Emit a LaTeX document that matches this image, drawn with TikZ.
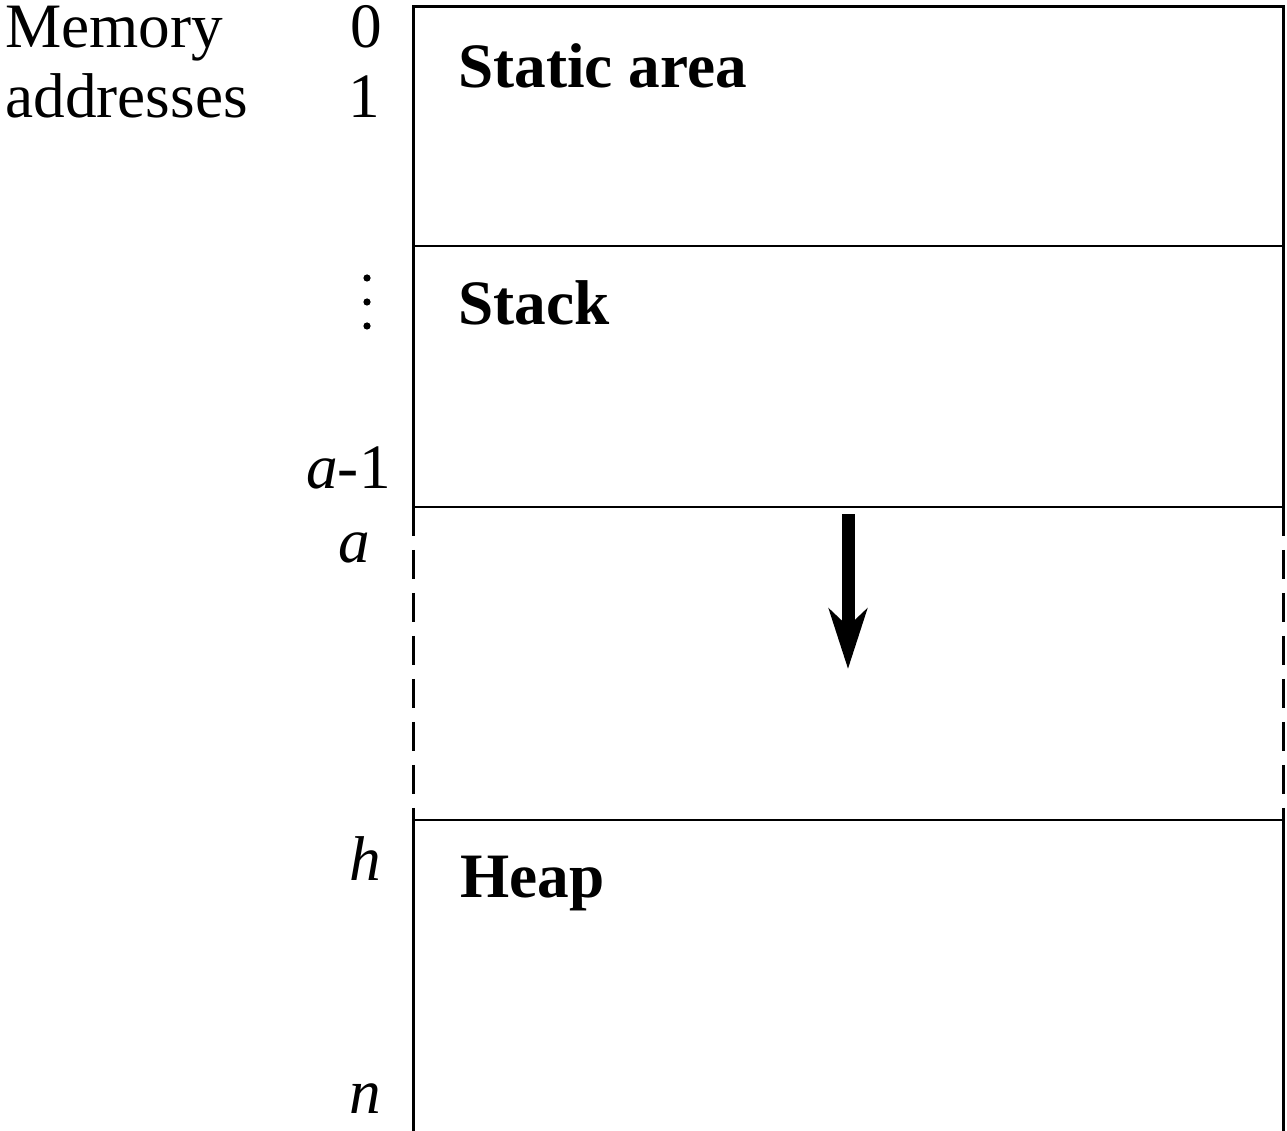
\documentclass[tikz,border=0pt]{standalone}
\usepackage{fontspec}
\setmainfont{Liberation Serif}
\usetikzlibrary{arrows.meta}
\begin{document}
\begin{tikzpicture}[x=0.02cm,y=-0.02cm,
  lbl/.style={inner sep=0pt,font=\fontsize{36}{40}\selectfont},
  boxline/.style={line width=1.7pt},
  dashline/.style={line width=1.7pt,dash pattern=on 0.58cm off 0.28cm},
  bigarrow/.style={line width=0.26cm,-{Stealth[length=1.2cm,width=0.76cm,inset=0.35cm]}}]
\useasboundingbox (0,0) rectangle (1287,1131);
% box outline
\coordinate (tl) at (413,7);
\coordinate (tr) at (1283,7);
\coordinate (s1l) at (413,246);
\coordinate (s1r) at (1283,246);
\coordinate (s2l) at (413,507);
\coordinate (s2r) at (1283,507);
\coordinate (s3l) at (413,820);
\coordinate (s3r) at (1283,820);
\coordinate (bl) at (413,1131);
\coordinate (br) at (1283,1131);
\draw[boxline] (s2l) -- (tl) -- (tr) -- (s2r);
\draw[boxline] (s1l) -- (s1r);
\draw[boxline] (s2l) -- (s2r);
\draw[boxline] (s3l) -- (s3r);
\draw[boxline] (s3l) -- (bl);
\draw[boxline] (s3r) -- (br);
\draw[dashline] (s2l) -- (s3l);
\draw[dashline] (s2r) -- (s3r);
% arrow
\coordinate (arS) at (848,514);
\coordinate (arE) at (848,669);
\draw[bigarrow] (arS) -- (arE);
% labels
\node[lbl,anchor=base west] (mem) at (5,48) {Memory};
\node[lbl,anchor=base west] (addr) at (5,118) {addresses};
\node[lbl,anchor=base east] (a0) at (382,48) {0};
\node[lbl,anchor=base east] (a1) at (380,118) {1};
\node[lbl,anchor=base east] (am1) at (391,488) {\textit{a}-1};
\node[lbl,anchor=base east] (aa) at (370,562) {\textit{a}};
\node[lbl,anchor=base east] (ah) at (381,880) {\textit{h}};
\node[lbl,anchor=base east] (an) at (381,1113) {\textit{n}};
\node[lbl,anchor=base west,font=\fontsize{36}{40}\selectfont\bfseries] (static) at (458,88) {Static area};
\node[lbl,anchor=base west,font=\fontsize{36}{40}\selectfont\bfseries] (stack) at (458,325) {Stack};
\node[lbl,anchor=base west,font=\fontsize{36}{40}\selectfont\bfseries] (heap) at (460,897) {Heap};
% vertical dots
\foreach \yy in {278,302,326} \fill (367,\yy) circle (3.6);
\end{tikzpicture}
\end{document}
